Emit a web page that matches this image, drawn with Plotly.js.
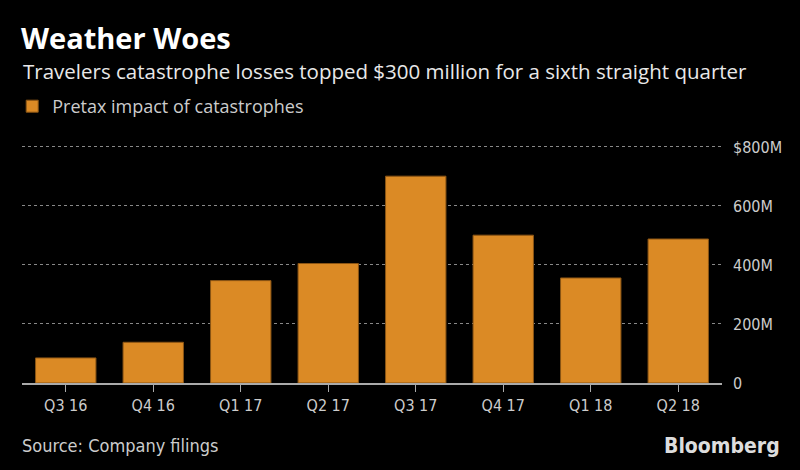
<!DOCTYPE html>
<html>
<head>
<meta charset="utf-8">
<script src="https://cdn.plot.ly/plotly-3.0.1.min.js"></script>
<style>html,body{margin:0;padding:0;background:#000;}#chart{width:800px;height:470px;}</style>
</head>
<body>
<div id="chart"></div>
<script>
const categories = ["Q3 16", "Q4 16", "Q1 17", "Q2 17", "Q3 17", "Q4 17", "Q1 18", "Q2 18"];
const catastropheLosses = [85, 138, 347, 405, 701, 501, 356, 488];
const yTickVals = [0, 200, 400, 600, 800];
const yTickText = ["0", "200M", "400M", "600M", "$800M"];

const sans = "'Open Sans', 'Noto Sans', sans-serif";
const narrow = "'Liberation Sans Narrow', 'DejaVu Sans Condensed', sans-serif";

const trace = {
  type: "bar",
  x: categories,
  y: catastropheLosses,
  name: "Pretax impact of catastrophes",
  marker: { color: "#DB8A25", line: { color: "#8A5414", width: 1 } },
  hoverinfo: "x+y"
};

const layout = {
  width: 800, height: 470,
  paper_bgcolor: "#000", plot_bgcolor: "#000",
  margin: { l: 22, r: 78, t: 144, b: 87 },
  bargap: 0.31,
  showlegend: true,
  legend: {
    orientation: "h", x: -0.014, xanchor: "left", y: 1.157, yanchor: "middle",
    font: { family: sans, size: 18, color: "#cccccc" }, bgcolor: "rgba(0,0,0,0)"
  },
  title: {
    text: "<b>Weather Woes</b>", x: 21 / 800, xanchor: "left", y: 1 - 39 / 470, yanchor: "middle",
    font: { family: sans, size: 29, color: "#ffffff" }
  },
  xaxis: {
    type: "category", showgrid: false, showline: true, linecolor: "#aaaaaa", linewidth: 2,
    ticks: "outside", ticklen: 7, tickcolor: "#aaaaaa", tickwidth: 1,
    tickfont: { family: narrow, size: 16, color: "#cccccc" }, fixedrange: true
  },
  yaxis: {
    side: "right", range: [0, 810], tickvals: yTickVals, ticktext: yTickText,
    showgrid: true, gridcolor: "#888888", griddash: "dot", gridwidth: 1,
    zeroline: false, showline: false, ticks: "", ticklabelstandoff: 10,
    tickfont: { family: narrow, size: 16, color: "#cccccc" }, fixedrange: true
  },
  annotations: [
    { text: "Travelers catastrophe losses topped $300 million for a sixth straight quarter",
      xref: "paper", yref: "paper", x: -0.002, xanchor: "left", y: (383 - 71) / 239, yanchor: "middle",
      showarrow: false, font: { family: sans, size: 20.5, color: "#e8e8e8" } },
    { text: "Source: Company filings",
      xref: "paper", yref: "paper", x: -0.003, xanchor: "left", y: -(445 - 383) / 239, yanchor: "middle",
      showarrow: false, font: { family: narrow, size: 18, color: "#cccccc" } },
    { text: "<b>Bloomberg</b>",
      xref: "paper", yref: "paper", x: (782 - 22) / 700, xanchor: "right", y: -(446 - 383) / 239, yanchor: "middle",
      showarrow: false, font: { family: narrow, size: 21, color: "#dddddd" } }
  ]
};

Plotly.newPlot("chart", [trace], layout, { displayModeBar: false, staticPlot: true });
</script>
</body>
</html>
